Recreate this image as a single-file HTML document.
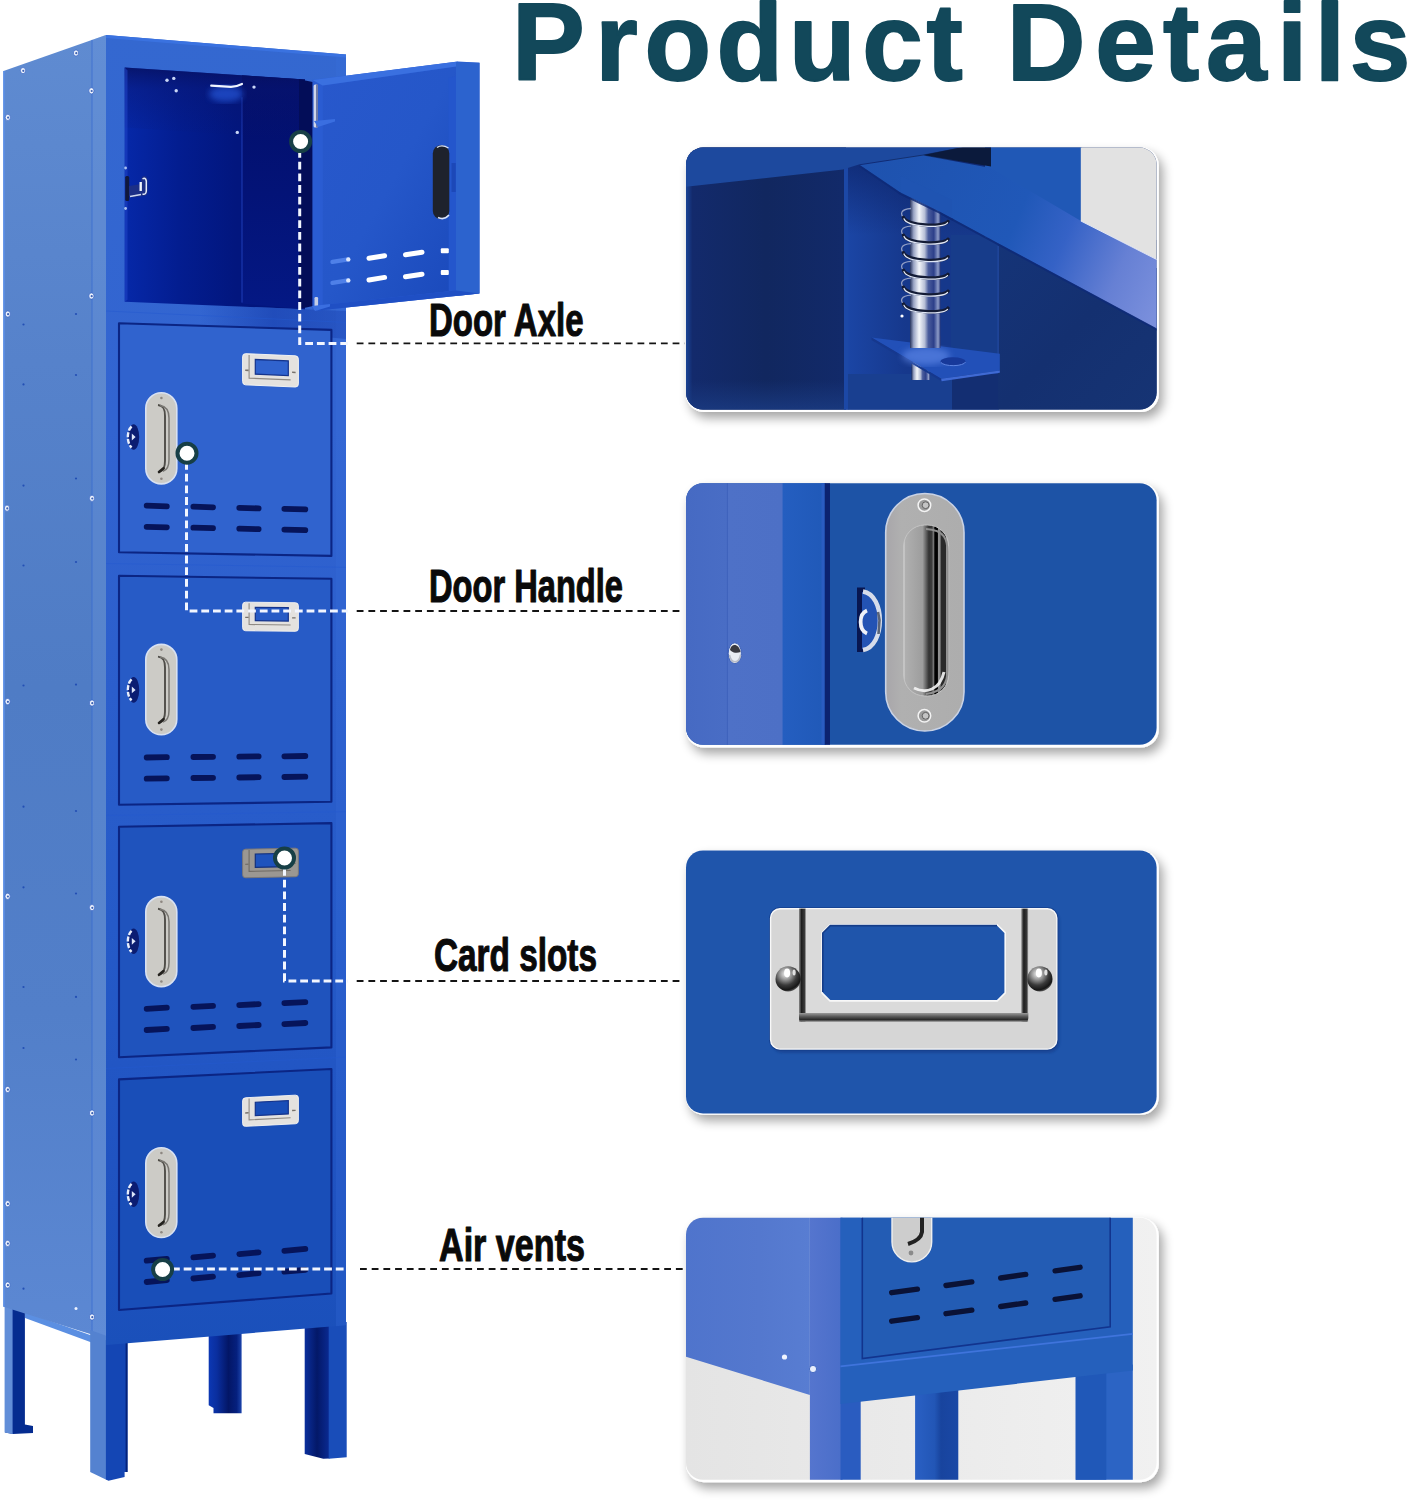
<!DOCTYPE html>
<html lang="en"><head><meta charset="utf-8"><title>Product Details</title>
<style>html,body{margin:0;padding:0;background:#fff}body{width:1412px;height:1500px;overflow:hidden}svg{display:block}</style>
</head><body>
<svg width="1412" height="1500" viewBox="0 0 1412 1500">
<defs>
<linearGradient id="gSide" x1="0" y1="0" x2="0" y2="1">
 <stop offset="0" stop-color="#5f8bd1"/><stop offset="0.25" stop-color="#5682cb"/><stop offset="0.5" stop-color="#4f7cc5"/><stop offset="0.75" stop-color="#527fc9"/><stop offset="1" stop-color="#5c88d3"/>
</linearGradient>
<linearGradient id="gFront" x1="0" y1="0" x2="0" y2="1">
 <stop offset="0" stop-color="#3468d0"/><stop offset="0.3" stop-color="#3264d1"/><stop offset="0.5" stop-color="#2b5ecc"/><stop offset="0.68" stop-color="#255ac8"/><stop offset="0.89" stop-color="#1f52c0"/><stop offset="1" stop-color="#1a50ba"/>
</linearGradient>
<linearGradient id="gDoor" x1="0" y1="0" x2="1" y2="1">
 <stop offset="0" stop-color="#2d60d5"/><stop offset="0.45" stop-color="#2457cf"/><stop offset="1" stop-color="#1e50c7"/>
</linearGradient>
<linearGradient id="gInner" x1="0" y1="0" x2="1" y2="0">
 <stop offset="0" stop-color="#0628a8"/><stop offset="0.3" stop-color="#031d90"/><stop offset="0.62" stop-color="#02167e"/><stop offset="1" stop-color="#02147a"/>
</linearGradient>
<linearGradient id="gInnerR" x1="0" y1="0" x2="0" y2="1">
 <stop offset="0" stop-color="#020e6a"/><stop offset="1" stop-color="#041884"/>
</linearGradient>
<linearGradient id="gInTop" x1="0" y1="0" x2="0" y2="1"><stop offset="0" stop-color="#070f5a" stop-opacity="0.75"/><stop offset="0.3" stop-color="#0a1670" stop-opacity="0.4"/><stop offset="1" stop-color="#0a1670" stop-opacity="0"/></linearGradient>
<linearGradient id="gLegM" x1="0" y1="0" x2="1" y2="0"><stop offset="0" stop-color="#0c38b4"/><stop offset="0.25" stop-color="#0a2e9e"/><stop offset="0.6" stop-color="#031666"/><stop offset="0.85" stop-color="#05207e"/><stop offset="1" stop-color="#1c44ac"/></linearGradient>
<linearGradient id="gLegR" x1="0" y1="0" x2="1" y2="0"><stop offset="0" stop-color="#0b2f9c"/><stop offset="0.5" stop-color="#031868"/><stop offset="1" stop-color="#0a2a92"/></linearGradient>
<linearGradient id="gRailSh" x1="0" y1="0" x2="1" y2="0"><stop offset="0" stop-color="#1238a8" stop-opacity="0"/><stop offset="0.5" stop-color="#1238a8" stop-opacity="0.55"/><stop offset="1" stop-color="#1238a8" stop-opacity="0.35"/></linearGradient>
<linearGradient id="gOpen" x1="0" y1="0" x2="1" y2="1">
 <stop offset="0" stop-color="#2858cc"/><stop offset="0.5" stop-color="#2557c9"/><stop offset="1" stop-color="#1a49bb"/>
</linearGradient>
<linearGradient id="gPlate" x1="0" y1="0" x2="1" y2="0">
 <stop offset="0" stop-color="#e2e0dd"/><stop offset="0.5" stop-color="#d0ccc7"/><stop offset="1" stop-color="#dad7d3"/>
</linearGradient>
<linearGradient id="gC0L" x1="0" y1="0" x2="1" y2="0">
 <stop offset="0" stop-color="#1a4496"/><stop offset="0.04" stop-color="#132a6c"/><stop offset="0.5" stop-color="#11275f"/><stop offset="1" stop-color="#122a6a"/>
</linearGradient>
<linearGradient id="gC0R" x1="0" y1="0" x2="1" y2="0"><stop offset="0" stop-color="#1b46a6"/><stop offset="0.4" stop-color="#16388c"/><stop offset="1" stop-color="#16388a"/></linearGradient>
<linearGradient id="gC0LB" x1="0" y1="0" x2="0" y2="1"><stop offset="0" stop-color="#1a3a80" stop-opacity="0"/><stop offset="1" stop-color="#1a3a80" stop-opacity="0.9"/></linearGradient>
<linearGradient id="gC0RR" x1="0" y1="0" x2="1" y2="1"><stop offset="0" stop-color="#153478"/><stop offset="0.5" stop-color="#143070"/><stop offset="1" stop-color="#163474"/></linearGradient>
<linearGradient id="gC0Sh" x1="0" y1="0" x2="0" y2="1"><stop offset="0" stop-color="#0c2266" stop-opacity="0.7"/><stop offset="1" stop-color="#0c2266" stop-opacity="0"/></linearGradient>
<linearGradient id="gC0B" x1="0" y1="0" x2="0" y2="1"><stop offset="0" stop-color="#143a90"/><stop offset="1" stop-color="#1746a6"/></linearGradient>
<linearGradient id="gBeam" gradientUnits="userSpaceOnUse" x1="860" y1="170" x2="1160" y2="300">
 <stop offset="0" stop-color="#1e52ae"/><stop offset="0.5" stop-color="#2058b8"/><stop offset="0.66" stop-color="#3562c6"/><stop offset="0.85" stop-color="#6680d4"/><stop offset="1" stop-color="#7a8fdc"/>
</linearGradient>
<linearGradient id="gPin" x1="0" y1="0" x2="1" y2="0">
 <stop offset="0" stop-color="#26335e"/><stop offset="0.12" stop-color="#9aa4c4"/><stop offset="0.3" stop-color="#f4f6fa"/><stop offset="0.48" stop-color="#b7bfd6"/><stop offset="0.6" stop-color="#4a5c9c"/><stop offset="0.78" stop-color="#2c3f8a"/><stop offset="0.92" stop-color="#8e9cc8"/><stop offset="1" stop-color="#2a3a7c"/>
</linearGradient>
<linearGradient id="gC1L" x1="0" y1="0" x2="1" y2="0">
 <stop offset="0" stop-color="#466ac3"/><stop offset="0.288" stop-color="#496dc5"/><stop offset="0.292" stop-color="#4e71c7"/><stop offset="0.684" stop-color="#4d70c6"/><stop offset="0.696" stop-color="#245ec0"/><stop offset="1" stop-color="#2059b8"/>
</linearGradient>
<linearGradient id="gPl1" x1="0" y1="0" x2="1" y2="0"><stop offset="0" stop-color="#a8a6aa"/><stop offset="0.2" stop-color="#b0b0b0"/><stop offset="1" stop-color="#adadad"/></linearGradient>
<linearGradient id="gCup" x1="0" y1="0" x2="1" y2="0">
 <stop offset="0" stop-color="#f4f4f4"/><stop offset="0.025" stop-color="#b0b0b0"/><stop offset="0.42" stop-color="#9d9d9d"/><stop offset="0.56" stop-color="#333333"/><stop offset="0.62" stop-color="#3a3a3a"/><stop offset="0.67" stop-color="#7c7c7c"/><stop offset="0.69" stop-color="#000000"/><stop offset="0.75" stop-color="#000000"/><stop offset="0.765" stop-color="#909090"/><stop offset="0.81" stop-color="#8a8a8a"/><stop offset="0.83" stop-color="#2a2a2a"/><stop offset="0.93" stop-color="#2a2a2a"/><stop offset="0.955" stop-color="#adadad"/><stop offset="1" stop-color="#adadad"/>
</linearGradient>
<linearGradient id="gBarV" x1="0" y1="0" x2="1" y2="0">
 <stop offset="0" stop-color="#8d8d8d"/><stop offset="0.35" stop-color="#1e1e1e"/><stop offset="0.8" stop-color="#3a3a3a"/><stop offset="1" stop-color="#bdbdbd"/>
</linearGradient>
<linearGradient id="gBarH" x1="0" y1="0" x2="0" y2="1">
 <stop offset="0" stop-color="#9a9a9a"/><stop offset="0.4" stop-color="#5a5a5a"/><stop offset="0.75" stop-color="#2b2b2b"/><stop offset="1" stop-color="#8a8a8a"/>
</linearGradient>
<radialGradient id="gBall" cx="0.4" cy="0.3" r="0.75">
 <stop offset="0" stop-color="#f2f2f2"/><stop offset="0.3" stop-color="#9a9a9a"/><stop offset="0.6" stop-color="#3a3a3a"/><stop offset="0.85" stop-color="#161616"/><stop offset="1" stop-color="#7a7a7a"/>
</radialGradient>
<linearGradient id="gC3P" x1="0" y1="0" x2="1" y2="0"><stop offset="0" stop-color="#5575ce"/><stop offset="1" stop-color="#4a6ec9"/></linearGradient>
<linearGradient id="gC3G" x1="0" y1="0" x2="1" y2="0"><stop offset="0" stop-color="#e4e4e4"/><stop offset="1" stop-color="#f1f1f1"/></linearGradient>
<linearGradient id="gC3M" x1="0" y1="0" x2="1" y2="0"><stop offset="0" stop-color="#2a60c4"/><stop offset="0.45" stop-color="#2256b6"/><stop offset="0.6" stop-color="#18449e"/><stop offset="1" stop-color="#1a48a6"/></linearGradient>
<linearGradient id="gC3S" x1="0" y1="0" x2="1" y2="0">
 <stop offset="0" stop-color="#4f74cc"/><stop offset="0.6" stop-color="#5478ce"/><stop offset="1" stop-color="#587dd2"/>
</linearGradient>
<filter id="sh" x="-10%" y="-10%" width="125%" height="130%">
 <feGaussianBlur in="SourceAlpha" stdDeviation="5.5"/><feOffset dx="4" dy="6"/>
 <feComponentTransfer><feFuncA type="linear" slope="0.36"/></feComponentTransfer>
 <feMerge><feMergeNode/><feMergeNode in="SourceGraphic"/></feMerge>
</filter>
<filter id="b1"><feGaussianBlur stdDeviation="1"/></filter>
<filter id="b3"><feGaussianBlur stdDeviation="3"/></filter>
<filter id="b8"><feGaussianBlur stdDeviation="8"/></filter>
</defs>
<g id="locker">
<polygon points="5.1,1300.0 24.9,1308.0 24.9,1424.5 33.0,1426.0 33.0,1433.0 13.0,1434.0 5.1,1432.5" fill="#052c90"/>
<polygon points="4.6,1300.0 12.6,1303.0 12.6,1434.0 4.6,1432.5" fill="#628ed8"/>
<polygon points="208.7,1330.0 241.6,1328.0 241.6,1413.3 213.5,1413.3 213.5,1408.0 208.7,1405.3" fill="url(#gLegM)"/>
<polygon points="25.0,1312.0 93.0,1336.0 93.0,1343.0 25.0,1318.0" fill="#5b8fe2"/>
<polygon points="3.5,71.0 106.0,35.0 106.0,1339.0 3.5,1306.8" fill="url(#gSide)"/>
<polygon points="92.0,39.9 106.0,35.0 106.0,1339.0 92.0,1334.6" fill="#6a96e0" opacity="0.28"/>
<line x1="92" y1="39.9" x2="92" y2="1334.6" stroke="#3468cf" stroke-width="1" opacity="0.7"/>
<line x1="4" y1="71.0" x2="4" y2="1306.8" stroke="#5a8ee6" stroke-width="2" opacity="0.8"/>
<polygon points="90.2,1330.0 106.8,1336.0 106.8,1480.0 90.2,1472.0" fill="#5482d0"/>
<polygon points="105.9,1340.0 127.5,1340.0 127.5,1472.0 124.6,1472.0 124.6,1477.0 108.5,1480.8 105.9,1479.6" fill="#1446b4"/>
<rect x="125.6" y="1342" width="1.9" height="130" fill="#04227a"/>
<polygon points="304.7,1325.0 329.4,1325.0 329.4,1458.6 323.3,1458.7 304.7,1454.0" fill="url(#gLegR)"/>
<polygon points="328.7,1322.0 346.7,1322.0 346.7,1457.3 328.7,1458.7" fill="#194db9"/>
<polygon points="106.0,35.0 346.0,54.6 346.0,1325.3 106.0,1345.0" fill="url(#gFront)"/>
<polygon points="106.0,35.0 346.0,54.6 346.0,57.6 106.0,38.0" fill="#3a72e0"/>
<polygon points="336.0,53.8 346.0,54.6 346.0,1325.3 336.0,1326.2" fill="#3a70e0" opacity="0.22"/>
<polygon points="124.7,67.4 305.0,79.6 305.0,309.2 124.7,301.7" fill="url(#gInner)"/>
<polygon points="242.0,75.3 305.0,79.6 305.0,309.2 242.0,303.6" fill="url(#gInnerR)"/>
<line x1="242" y1="97.3" x2="242" y2="302.6" stroke="#2b4fd0" stroke-width="1" opacity="0.7"/>
<polygon points="124.7,67.4 305.0,79.6 305.0,139.6 124.7,127.4" fill="url(#gInTop)"/>
<polygon points="124.7,67.4 127.5,70.6 127.5,299.8 124.7,301.7" fill="#2145c8" opacity="0.55"/>
<ellipse cx="226" cy="94" rx="17" ry="8" fill="#2a62e8" opacity="0.6" filter="url(#b3)"/>
<path d="M211.2 85.7 L231 86.8 Q237 86.6 242 84" fill="none" stroke="#f0f5ff" stroke-width="2.2" stroke-linecap="round"/>
<circle cx="176.2" cy="90.8" r="1.7" fill="#c9d6f6"/>
<circle cx="254" cy="87.1" r="1.7" fill="#c9d6f6"/>
<circle cx="237.3" cy="132.4" r="1.7" fill="#c9d6f6"/>
<circle cx="167" cy="80.2" r="1.7" fill="#c9d6f6"/>
<circle cx="173.8" cy="78.4" r="1.7" fill="#c9d6f6"/>
<rect x="125.2" y="176" width="4" height="25" rx="1.5" fill="#10183c"/>
<path d="M129 186 L141 184 L141 181 Q141 176 144.5 176 Q147.6 176 147.6 181 L147.6 192 Q147.6 196 144 196 L133 197.5 L129 196 Z" fill="#1c2f86"/>
<path d="M142.5 179 Q145.5 177 146.3 181 L146.3 191 Q146 195 142.5 194" fill="none" stroke="#e4eaf8" stroke-width="1.5"/><path d="M130 196.5 L141 194.5" stroke="#cfd8ee" stroke-width="1.4"/><rect x="139.5" y="182" width="2.4" height="9" fill="#f0f4fc"/>
<circle cx="125.6" cy="168" r="1.4" fill="#a9c0f2"/><circle cx="125.6" cy="208.5" r="1.4" fill="#a9c0f2"/>
<polygon points="200.0,304.8 346.0,310.9 346.0,339.1 200.0,325.3" fill="url(#gRailSh)"/>
<polygon points="119.0,323.3 331.4,329.9 331.4,555.9 119.0,552.2" fill="#3063ce" stroke="#0b2584" stroke-width="2.1" stroke-linejoin="round"/>
<line x1="146.7" y1="505.7" x2="166.8" y2="506.3" stroke="#06145a" stroke-width="5.8" stroke-linecap="round"/>
<line x1="193.4" y1="506.7" x2="213.0" y2="507.3" stroke="#06145a" stroke-width="5.8" stroke-linecap="round"/>
<line x1="239.3" y1="507.8" x2="258.6" y2="508.4" stroke="#06145a" stroke-width="5.8" stroke-linecap="round"/>
<line x1="284.4" y1="508.8" x2="305.3" y2="509.4" stroke="#06145a" stroke-width="5.8" stroke-linecap="round"/>
<line x1="146.7" y1="526.8" x2="166.8" y2="527.3" stroke="#06145a" stroke-width="5.8" stroke-linecap="round"/>
<line x1="193.4" y1="527.7" x2="213.0" y2="528.2" stroke="#06145a" stroke-width="5.8" stroke-linecap="round"/>
<line x1="239.3" y1="528.7" x2="258.6" y2="529.2" stroke="#06145a" stroke-width="5.8" stroke-linecap="round"/>
<line x1="284.4" y1="529.6" x2="305.3" y2="530.1" stroke="#06145a" stroke-width="5.8" stroke-linecap="round"/>
<rect x="145.8" y="392.8" width="31" height="91.1" rx="15.5" fill="#cccbc6" stroke="#d8e1f2" stroke-width="1.6"/>
<path d="M158 405.0 C164 405.5 165 410.0 165 416.0 L165 460.7 C165 466.7 164 470.2 160 471.7" fill="none" stroke="#4f4d48" stroke-width="1.9"/>
<path d="M160 405.5 C167.5 406.5 169 412.0 169 418.0 L169 459.7 C169 465.7 168 469.7 163 471.2" fill="none" stroke="#7a7873" stroke-width="1.5"/>
<path d="M159 472.0 L163.5 468.3" stroke="#24221e" stroke-width="2.6" stroke-linecap="round"/>
<circle cx="161.4" cy="398.0" r="1.3" fill="#8d8781"/><circle cx="161.4" cy="478.7" r="1.3" fill="#8d8781"/>
<ellipse cx="133.6" cy="437.0" rx="5.6" ry="12.8" fill="#0b1d72"/>
<path d="M131.6 426.5 C 126.6 431.0 126.6 443.0 131.6 447.5" fill="none" stroke="#e8eefb" stroke-width="2.4" stroke-dasharray="5 1.6"/>
<path d="M131.8 433.6 L135.6 437.0 L131.8 440.4 Z" fill="#dfe7fa"/>
<g transform="translate(242.6,353.54) skewY(2.450) scale(1,1.091)">
<rect x="0" y="0" width="55.8" height="28.6" rx="3" fill="#e4e2df" stroke="#f6f5f3" stroke-width="0.9"/>
<path d="M6.5 1 L6.5 22.3 L48 22.3" fill="none" stroke="#8f8a84" stroke-width="1.1"/>
<rect x="12.7" y="5" width="33" height="13.4" fill="#3063ce" stroke="#15348c" stroke-width="1.2"/>
<path d="M2.6 15.2 L6 15.2 M49.5 15.2 L53 15.2" stroke="#77726c" stroke-width="1.4"/>
</g>
<polygon points="119.0,575.8 331.4,578.8 331.4,801.8 119.0,804.8" fill="#275bc6" stroke="#0b2584" stroke-width="2.1" stroke-linejoin="round"/>
<line x1="146.7" y1="757.5" x2="166.8" y2="757.2" stroke="#06145a" stroke-width="5.8" stroke-linecap="round"/>
<line x1="193.4" y1="757.0" x2="213.0" y2="756.8" stroke="#06145a" stroke-width="5.8" stroke-linecap="round"/>
<line x1="239.3" y1="756.7" x2="258.6" y2="756.4" stroke="#06145a" stroke-width="5.8" stroke-linecap="round"/>
<line x1="284.4" y1="756.3" x2="305.3" y2="756.0" stroke="#06145a" stroke-width="5.8" stroke-linecap="round"/>
<line x1="146.7" y1="778.6" x2="166.8" y2="778.3" stroke="#06145a" stroke-width="5.8" stroke-linecap="round"/>
<line x1="193.4" y1="778.0" x2="213.0" y2="777.8" stroke="#06145a" stroke-width="5.8" stroke-linecap="round"/>
<line x1="239.3" y1="777.5" x2="258.6" y2="777.2" stroke="#06145a" stroke-width="5.8" stroke-linecap="round"/>
<line x1="284.4" y1="777.0" x2="305.3" y2="776.7" stroke="#06145a" stroke-width="5.8" stroke-linecap="round"/>
<rect x="145.8" y="644.4" width="31" height="90.4" rx="15.5" fill="#cccbc6" stroke="#d8e1f2" stroke-width="1.6"/>
<path d="M158 656.6 C164 657.1 165 661.6 165 667.6 L165 711.6 C165 717.6 164 721.1 160 722.6" fill="none" stroke="#4f4d48" stroke-width="1.9"/>
<path d="M160 657.1 C167.5 658.1 169 663.6 169 669.6 L169 710.6 C169 716.6 168 720.6 163 722.1" fill="none" stroke="#7a7873" stroke-width="1.5"/>
<path d="M159 722.9 L163.5 719.2" stroke="#24221e" stroke-width="2.6" stroke-linecap="round"/>
<circle cx="161.4" cy="649.6" r="1.3" fill="#8d8781"/><circle cx="161.4" cy="729.6" r="1.3" fill="#8d8781"/>
<ellipse cx="133.6" cy="689.9" rx="5.6" ry="12.8" fill="#0b1d72"/>
<path d="M131.6 679.4 C 126.6 683.9 126.6 695.9 131.6 700.4" fill="none" stroke="#e8eefb" stroke-width="2.4" stroke-dasharray="5 1.6"/>
<path d="M131.8 686.5 L135.6 689.9 L131.8 693.3 Z" fill="#dfe7fa"/>
<g transform="translate(242.6,602.13) skewY(0.640) scale(1,1.000)">
<rect x="0" y="0" width="55.8" height="28.6" rx="3" fill="#e4e2df" stroke="#f6f5f3" stroke-width="0.9"/>
<path d="M6.5 1 L6.5 22.3 L48 22.3" fill="none" stroke="#8f8a84" stroke-width="1.1"/>
<rect x="12.7" y="5" width="33" height="13.4" fill="#275bc6" stroke="#15348c" stroke-width="1.2"/>
<path d="M2.6 15.2 L6 15.2 M49.5 15.2 L53 15.2" stroke="#77726c" stroke-width="1.4"/>
</g>
<polygon points="119.0,826.8 331.4,823.1 331.4,1047.4 119.0,1057.2" fill="#1f53bd" stroke="#0b2584" stroke-width="2.1" stroke-linejoin="round"/>
<line x1="146.7" y1="1008.8" x2="166.8" y2="1007.7" stroke="#06145a" stroke-width="5.8" stroke-linecap="round"/>
<line x1="193.4" y1="1006.9" x2="213.0" y2="1005.9" stroke="#06145a" stroke-width="5.8" stroke-linecap="round"/>
<line x1="239.3" y1="1005.1" x2="258.6" y2="1004.1" stroke="#06145a" stroke-width="5.8" stroke-linecap="round"/>
<line x1="284.4" y1="1003.2" x2="305.3" y2="1002.2" stroke="#06145a" stroke-width="5.8" stroke-linecap="round"/>
<line x1="146.7" y1="1030.0" x2="166.8" y2="1028.9" stroke="#06145a" stroke-width="5.8" stroke-linecap="round"/>
<line x1="193.4" y1="1028.0" x2="213.0" y2="1026.9" stroke="#06145a" stroke-width="5.8" stroke-linecap="round"/>
<line x1="239.3" y1="1026.0" x2="258.6" y2="1025.0" stroke="#06145a" stroke-width="5.8" stroke-linecap="round"/>
<line x1="284.4" y1="1024.1" x2="305.3" y2="1023.0" stroke="#06145a" stroke-width="5.8" stroke-linecap="round"/>
<rect x="145.8" y="896.6" width="31" height="90.1" rx="15.5" fill="#cccbc6" stroke="#d8e1f2" stroke-width="1.6"/>
<path d="M158 908.8 C164 909.3 165 913.8 165 919.8 L165 963.5 C165 969.5 164 973.0 160 974.5" fill="none" stroke="#4f4d48" stroke-width="1.9"/>
<path d="M160 909.3 C167.5 910.3 169 915.8 169 921.8 L169 962.5 C169 968.5 168 972.5 163 974.0" fill="none" stroke="#7a7873" stroke-width="1.5"/>
<path d="M159 974.8 L163.5 971.1" stroke="#24221e" stroke-width="2.6" stroke-linecap="round"/>
<circle cx="161.4" cy="901.8" r="1.3" fill="#8d8781"/><circle cx="161.4" cy="981.5" r="1.3" fill="#8d8781"/>
<ellipse cx="133.6" cy="941.3" rx="5.6" ry="12.8" fill="#0b1d72"/>
<path d="M131.6 930.8 C 126.6 935.3 126.6 947.3 131.6 951.8" fill="none" stroke="#e8eefb" stroke-width="2.4" stroke-dasharray="5 1.6"/>
<path d="M131.8 937.9 L135.6 941.3 L131.8 944.7 Z" fill="#dfe7fa"/>
<g transform="translate(242.6,849.23) skewY(-1.160) scale(1,1.000)">
<rect x="0" y="0" width="55.8" height="28.6" rx="3" fill="#9b9792" stroke="#7d7873" stroke-width="0.9"/>
<path d="M6.5 1 L6.5 22.3 L48 22.3" fill="none" stroke="#6f6a64" stroke-width="1.1"/>
<rect x="12.7" y="5" width="33" height="13.4" fill="#1f53bd" stroke="#14307c" stroke-width="1.2"/>
<path d="M2.6 15.2 L6 15.2 M49.5 15.2 L53 15.2" stroke="#77726c" stroke-width="1.4"/>
</g>
<polygon points="119.0,1079.4 331.4,1069.0 331.4,1293.5 119.0,1310.0" fill="#194eb8" stroke="#0b2584" stroke-width="2.1" stroke-linejoin="round"/>
<line x1="146.7" y1="1260.7" x2="166.8" y2="1258.9" stroke="#06145a" stroke-width="5.8" stroke-linecap="round"/>
<line x1="193.4" y1="1257.4" x2="213.0" y2="1255.6" stroke="#06145a" stroke-width="5.8" stroke-linecap="round"/>
<line x1="239.3" y1="1254.1" x2="258.6" y2="1252.3" stroke="#06145a" stroke-width="5.8" stroke-linecap="round"/>
<line x1="284.4" y1="1250.8" x2="305.3" y2="1248.9" stroke="#06145a" stroke-width="5.8" stroke-linecap="round"/>
<line x1="146.7" y1="1282.0" x2="166.8" y2="1280.1" stroke="#06145a" stroke-width="5.8" stroke-linecap="round"/>
<line x1="193.4" y1="1278.5" x2="213.0" y2="1276.6" stroke="#06145a" stroke-width="5.8" stroke-linecap="round"/>
<line x1="239.3" y1="1275.1" x2="258.6" y2="1273.2" stroke="#06145a" stroke-width="5.8" stroke-linecap="round"/>
<line x1="284.4" y1="1271.7" x2="305.3" y2="1269.8" stroke="#06145a" stroke-width="5.8" stroke-linecap="round"/>
<rect x="145.8" y="1147.8" width="31" height="89.7" rx="15.5" fill="#cccbc6" stroke="#d8e1f2" stroke-width="1.6"/>
<path d="M158 1160.0 C164 1160.5 165 1165.0 165 1171.0 L165 1214.3 C165 1220.3 164 1223.8 160 1225.3" fill="none" stroke="#4f4d48" stroke-width="1.9"/>
<path d="M160 1160.5 C167.5 1161.5 169 1167.0 169 1173.0 L169 1213.3 C169 1219.3 168 1223.3 163 1224.8" fill="none" stroke="#7a7873" stroke-width="1.5"/>
<path d="M159 1225.6 L163.5 1221.9" stroke="#24221e" stroke-width="2.6" stroke-linecap="round"/>
<circle cx="161.4" cy="1153.0" r="1.3" fill="#8d8781"/><circle cx="161.4" cy="1232.3" r="1.3" fill="#8d8781"/>
<ellipse cx="133.6" cy="1194.3" rx="5.6" ry="12.8" fill="#0b1d72"/>
<path d="M131.6 1183.8 C 126.6 1188.3 126.6 1200.3 131.6 1204.8" fill="none" stroke="#e8eefb" stroke-width="2.4" stroke-dasharray="5 1.6"/>
<path d="M131.8 1190.9 L135.6 1194.3 L131.8 1197.7 Z" fill="#dfe7fa"/>
<g transform="translate(242.6,1097.91) skewY(-2.970) scale(1,1.000)">
<rect x="0" y="0" width="55.8" height="28.6" rx="3" fill="#e4e2df" stroke="#f6f5f3" stroke-width="0.9"/>
<path d="M6.5 1 L6.5 22.3 L48 22.3" fill="none" stroke="#8f8a84" stroke-width="1.1"/>
<rect x="12.7" y="5" width="33" height="13.4" fill="#194eb8" stroke="#15348c" stroke-width="1.2"/>
<path d="M2.6 15.2 L6 15.2 M49.5 15.2 L53 15.2" stroke="#77726c" stroke-width="1.4"/>
</g>
<line x1="106.0" y1="311.0" x2="346.0" y2="322.4" stroke="#2459cf" stroke-width="1" opacity="0.5"/>
<line x1="106.0" y1="563.5" x2="346.0" y2="567.3" stroke="#2459cf" stroke-width="1" opacity="0.5"/>
<line x1="106.0" y1="815.5" x2="346.0" y2="811.7" stroke="#2459cf" stroke-width="1" opacity="0.5"/>
<line x1="106.0" y1="1068.5" x2="346.0" y2="1057.1" stroke="#2459cf" stroke-width="1" opacity="0.5"/>
<ellipse cx="23.0" cy="70.6" rx="2.6" ry="3.1" fill="#eef3fd" stroke="#3763c2" stroke-width="0.7"/><circle cx="23.3" cy="70.8" r="1.1" fill="#3d62b4"/>
<ellipse cx="76.0" cy="53.0" rx="2.6" ry="3.1" fill="#eef3fd" stroke="#3763c2" stroke-width="0.7"/><circle cx="76.3" cy="53.2" r="1.1" fill="#3d62b4"/>
<ellipse cx="91.4" cy="90.8" rx="2.6" ry="3.1" fill="#eef3fd" stroke="#3763c2" stroke-width="0.7"/><circle cx="91.7" cy="91.0" r="1.1" fill="#3d62b4"/>
<ellipse cx="7.8" cy="117.4" rx="2.6" ry="3.1" fill="#eef3fd" stroke="#3763c2" stroke-width="0.7"/><circle cx="8.1" cy="117.6" r="1.1" fill="#3d62b4"/>
<ellipse cx="91.4" cy="296.0" rx="2.6" ry="3.1" fill="#eef3fd" stroke="#3763c2" stroke-width="0.7"/><circle cx="91.7" cy="296.2" r="1.1" fill="#3d62b4"/>
<ellipse cx="7.8" cy="314.0" rx="2.6" ry="3.1" fill="#eef3fd" stroke="#3763c2" stroke-width="0.7"/><circle cx="8.1" cy="314.2" r="1.1" fill="#3d62b4"/>
<ellipse cx="92.0" cy="498.3" rx="2.6" ry="3.1" fill="#eef3fd" stroke="#3763c2" stroke-width="0.7"/><circle cx="92.3" cy="498.5" r="1.1" fill="#3d62b4"/>
<ellipse cx="7.0" cy="508.2" rx="2.6" ry="3.1" fill="#eef3fd" stroke="#3763c2" stroke-width="0.7"/><circle cx="7.3" cy="508.4" r="1.1" fill="#3d62b4"/>
<ellipse cx="7.6" cy="701.6" rx="2.6" ry="3.1" fill="#eef3fd" stroke="#3763c2" stroke-width="0.7"/><circle cx="7.9" cy="701.8" r="1.1" fill="#3d62b4"/>
<ellipse cx="92.0" cy="703.0" rx="2.6" ry="3.1" fill="#eef3fd" stroke="#3763c2" stroke-width="0.7"/><circle cx="92.3" cy="703.2" r="1.1" fill="#3d62b4"/>
<ellipse cx="7.6" cy="896.3" rx="2.6" ry="3.1" fill="#eef3fd" stroke="#3763c2" stroke-width="0.7"/><circle cx="7.9" cy="896.5" r="1.1" fill="#3d62b4"/>
<ellipse cx="92.0" cy="907.6" rx="2.6" ry="3.1" fill="#eef3fd" stroke="#3763c2" stroke-width="0.7"/><circle cx="92.3" cy="907.8" r="1.1" fill="#3d62b4"/>
<ellipse cx="7.6" cy="1089.5" rx="2.6" ry="3.1" fill="#eef3fd" stroke="#3763c2" stroke-width="0.7"/><circle cx="7.9" cy="1089.7" r="1.1" fill="#3d62b4"/>
<ellipse cx="92.0" cy="1113.0" rx="2.6" ry="3.1" fill="#eef3fd" stroke="#3763c2" stroke-width="0.7"/><circle cx="92.3" cy="1113.2" r="1.1" fill="#3d62b4"/>
<ellipse cx="7.6" cy="1203.7" rx="2.6" ry="3.1" fill="#eef3fd" stroke="#3763c2" stroke-width="0.7"/><circle cx="7.9" cy="1203.9" r="1.1" fill="#3d62b4"/>
<ellipse cx="7.6" cy="1243.4" rx="2.6" ry="3.1" fill="#eef3fd" stroke="#3763c2" stroke-width="0.7"/><circle cx="7.9" cy="1243.6" r="1.1" fill="#3d62b4"/>
<ellipse cx="7.6" cy="1285.0" rx="2.6" ry="3.1" fill="#eef3fd" stroke="#3763c2" stroke-width="0.7"/><circle cx="7.9" cy="1285.2" r="1.1" fill="#3d62b4"/>
<ellipse cx="92.0" cy="1317.0" rx="2.6" ry="3.1" fill="#eef3fd" stroke="#3763c2" stroke-width="0.7"/><circle cx="92.3" cy="1317.2" r="1.1" fill="#3d62b4"/>
<circle cx="76" cy="1308.6" r="1.5" fill="#eef3ff"/>
<circle cx="23.5" cy="324.5" r="1.1" fill="#234fb4"/>
<circle cx="23.5" cy="384.4" r="1.1" fill="#234fb4"/>
<circle cx="23.5" cy="485.6" r="1.1" fill="#234fb4"/>
<circle cx="23.5" cy="565.5" r="1.1" fill="#234fb4"/>
<circle cx="23.5" cy="685.5" r="1.1" fill="#234fb4"/>
<circle cx="23.5" cy="806.7" r="1.1" fill="#234fb4"/>
<circle cx="23.5" cy="887.3" r="1.1" fill="#234fb4"/>
<circle cx="23.5" cy="987.0" r="1.1" fill="#234fb4"/>
<circle cx="23.5" cy="1048.0" r="1.1" fill="#234fb4"/>
<circle cx="23.5" cy="1288.7" r="1.1" fill="#234fb4"/>
<circle cx="76.0" cy="314.0" r="1.1" fill="#234fb4"/>
<circle cx="76.0" cy="375.0" r="1.1" fill="#234fb4"/>
<circle cx="76.0" cy="478.5" r="1.1" fill="#234fb4"/>
<circle cx="76.0" cy="562.0" r="1.1" fill="#234fb4"/>
<circle cx="76.0" cy="684.6" r="1.1" fill="#234fb4"/>
<circle cx="76.0" cy="811.0" r="1.1" fill="#234fb4"/>
<circle cx="76.0" cy="893.5" r="1.1" fill="#234fb4"/>
<circle cx="76.0" cy="996.9" r="1.1" fill="#234fb4"/>
<circle cx="76.0" cy="1059.5" r="1.1" fill="#234fb4"/>
<polygon points="299.0,79.2 322.7,84.0 322.7,304.0 299.0,308.9" fill="#030d58"/>
<polygon points="312.4,79.9 458.0,61.6 479.5,62.7 479.5,293.6 318.0,310.5 312.4,309.0" fill="#2a5cd2"/>
<polygon points="322.7,85.5 456.0,66.5 456.0,290.5 322.7,305.0" fill="url(#gOpen)"/>
<polygon points="312.4,79.9 458.0,61.6 456.0,66.5 322.7,85.5" fill="#3a70e0"/>
<polygon points="456.0,62.0 479.5,62.7 479.5,293.6 456.0,296.0" fill="#2c63ce"/>
<polygon points="448.7,78.0 456.0,76.0 456.0,292.0 448.7,292.5" fill="#2456cc"/>
<polygon points="322.7,305.0 456.0,290.5 479.5,293.6 318.0,310.5" fill="#1f4fc4"/>
<rect x="432.8" y="145.2" width="16.5" height="74" rx="8.2" fill="#1e222c"/>
<path d="M437 147.5 Q442 144 448.5 148" stroke="#d8e2f8" stroke-width="1.4" fill="none"/><path d="M438 217.5 Q444 220.5 449 215" stroke="#d8e2f8" stroke-width="1.6" fill="none"/>
<rect x="451.5" y="163" width="4.2" height="29" fill="#1c48b8"/>
<line x1="332.5" y1="261.8" x2="348" y2="259.4" stroke="#4f80e8" stroke-width="4.4" stroke-linecap="round"/>
<circle cx="348.3" cy="259.4" r="2.2" fill="#dfe8fb"/>
<line x1="369" y1="258.3" x2="384.6" y2="255.7" stroke="#ffffff" stroke-width="5" stroke-linecap="round"/>
<line x1="405.5" y1="254.8" x2="422" y2="252.2" stroke="#ffffff" stroke-width="5" stroke-linecap="round"/>
<rect x="440.8" y="248.2" width="8" height="5" rx="1" fill="#ffffff"/>
<line x1="332.5" y1="282.8" x2="348" y2="280.4" stroke="#4f80e8" stroke-width="4.4" stroke-linecap="round"/>
<circle cx="348.3" cy="280.4" r="2.2" fill="#dfe8fb"/>
<line x1="369" y1="280.0" x2="384.6" y2="277.4" stroke="#ffffff" stroke-width="5" stroke-linecap="round"/>
<line x1="405.5" y1="276.8" x2="422" y2="274.2" stroke="#ffffff" stroke-width="5" stroke-linecap="round"/>
<rect x="440.8" y="270.0" width="8" height="5" rx="1" fill="#ffffff"/>
<rect x="313.6" y="84.5" width="4.2" height="43" rx="1.5" fill="#cfd6ea"/><rect x="316" y="84.5" width="2" height="43" fill="#6f7ba8"/>
<path d="M314 121 L335 119 L335 121.5 L318 127 Z" fill="#3a6ee0"/>
<rect x="314.5" y="297" width="3.6" height="13" rx="1.2" fill="#c4cde6"/>
<path d="M312 306 L330 304 L330 306.5 L315 311 Z" fill="#3a6ee0"/>
</g>
<clipPath id="c0"><rect x="686" y="147.6" width="470.6" height="262" rx="17"/></clipPath>
<clipPath id="c1"><rect x="686" y="483.2" width="470.6" height="261.6" rx="17"/></clipPath>
<clipPath id="c2"><rect x="686" y="850.4" width="470.6" height="263" rx="17"/></clipPath>
<clipPath id="c3"><rect x="686" y="1217.8" width="470.6" height="262" rx="17"/></clipPath>
<rect x="686" y="147.6" width="472.8" height="264.4" rx="18" fill="#ffffff" filter="url(#sh)"/>
<rect x="686" y="483.2" width="472.8" height="264.4" rx="18" fill="#ffffff" filter="url(#sh)"/>
<rect x="686" y="850.4" width="472.8" height="264.4" rx="18" fill="#ffffff" filter="url(#sh)"/>
<rect x="686" y="1217.8" width="472.8" height="264.4" rx="18" fill="#ffffff" filter="url(#sh)"/>
<g clip-path="url(#c0)">
<rect x="686" y="147" width="471" height="264" fill="#143070"/>
<rect x="686" y="147" width="160" height="264" fill="url(#gC0L)"/>
<rect x="686" y="380" width="160" height="31" fill="url(#gC0LB)"/>
<rect x="844" y="160" width="155" height="251" fill="url(#gC0R)"/>
<rect x="844" y="160" width="4.5" height="251" fill="#1c48a6"/>
<rect x="951" y="235" width="47" height="137" fill="#173c8a"/>
<rect x="998" y="240" width="160" height="171" fill="url(#gC0RR)"/>
<line x1="998.2" y1="246" x2="998.2" y2="370" stroke="#2c58bc" stroke-width="1" opacity="0.7"/>
<rect x="848" y="374" width="104" height="37" fill="#193f90"/>
<rect x="952" y="374" width="46" height="37" fill="#132e72"/>
<rect x="848" y="160" width="150" height="75" fill="url(#gC0Sh)"/>
<rect x="985" y="147" width="97" height="91" fill="#2058b6"/>
<rect x="1080.8" y="147" width="80" height="121" fill="#e2e2e2"/>
<polygon points="686.0,147.0 962.8,147.0 923.5,154.6 859.7,164.2 843.0,169.5 686.0,186.8" fill="#1d499e"/>
<polygon points="923.5,155.0 962.8,147.0 991.0,147.0 991.0,166.5" fill="#0b1a3c"/>
<polygon points="859.7,165.3 923.5,155.4 991.0,168.0 1081.0,221.0 1160.0,261.0 1160.0,330.5 998.2,243.5 940.0,212.0 900.7,193.0" fill="url(#gBeam)"/>
<polyline points="859.7,166.0 900.7,193.8 940.0,212.8 998.2,244.3 1160.0,331.3" fill="none" stroke="#0e2a78" stroke-width="2" opacity="0.85"/>
<line x1="1080.8" y1="221" x2="1160" y2="261.2" stroke="#f4f6fc" stroke-width="1" opacity="0.8"/>
<rect x="910" y="198" width="30.5" height="150" fill="url(#gPin)"/>
<rect x="911.5" y="362" width="18.5" height="18" fill="url(#gPin)"/>
<path d="M905 219.0 C 899 214.0 901 209.0 911 208.5" fill="none" stroke="#8f9cc4" stroke-width="1.3"/>
<path d="M903.5 217.5 C 906 226.0 944 227.5 948 221.5" fill="none" stroke="#141c36" stroke-width="3.4" stroke-linecap="round"/>
<path d="M904 218.8 C 907 227.2 943 228.6 947.5 222.8" fill="none" stroke="#dfe6f6" stroke-width="1.3" stroke-linecap="round"/>
<path d="M905 236.7 C 899 231.7 901 226.7 911 226.2" fill="none" stroke="#8f9cc4" stroke-width="1.3"/>
<path d="M903.5 235.2 C 906 243.7 944 245.2 948 239.2" fill="none" stroke="#141c36" stroke-width="3.4" stroke-linecap="round"/>
<path d="M904 236.5 C 907 244.9 943 246.3 947.5 240.5" fill="none" stroke="#dfe6f6" stroke-width="1.3" stroke-linecap="round"/>
<path d="M905 254.2 C 899 249.2 901 244.2 911 243.7" fill="none" stroke="#8f9cc4" stroke-width="1.3"/>
<path d="M903.5 252.7 C 906 261.2 944 262.7 948 256.7" fill="none" stroke="#141c36" stroke-width="3.4" stroke-linecap="round"/>
<path d="M904 254.0 C 907 262.4 943 263.8 947.5 258.0" fill="none" stroke="#dfe6f6" stroke-width="1.3" stroke-linecap="round"/>
<path d="M905 271.8 C 899 266.8 901 261.8 911 261.3" fill="none" stroke="#8f9cc4" stroke-width="1.3"/>
<path d="M903.5 270.3 C 906 278.8 944 280.3 948 274.3" fill="none" stroke="#141c36" stroke-width="3.4" stroke-linecap="round"/>
<path d="M904 271.6 C 907 280.0 943 281.4 947.5 275.6" fill="none" stroke="#dfe6f6" stroke-width="1.3" stroke-linecap="round"/>
<path d="M905 288.7 C 899 283.7 901 278.7 911 278.2" fill="none" stroke="#8f9cc4" stroke-width="1.3"/>
<path d="M903.5 287.2 C 906 295.7 944 297.2 948 291.2" fill="none" stroke="#141c36" stroke-width="3.4" stroke-linecap="round"/>
<path d="M904 288.5 C 907 296.9 943 298.3 947.5 292.5" fill="none" stroke="#dfe6f6" stroke-width="1.3" stroke-linecap="round"/>
<path d="M905 305.6 C 899 300.6 901 295.6 911 295.1" fill="none" stroke="#8f9cc4" stroke-width="1.3"/>
<path d="M903.5 304.1 C 906 312.6 944 314.1 948 308.1" fill="none" stroke="#141c36" stroke-width="3.4" stroke-linecap="round"/>
<path d="M904 305.4 C 907 313.8 943 315.2 947.5 309.4" fill="none" stroke="#dfe6f6" stroke-width="1.3" stroke-linecap="round"/>
<polygon points="900.7,193.0 940.0,212.0 952.0,218.5 952.0,200.0 900.7,176.0" fill="#1f54b2"/>
<polyline points="899.0,192.8 940.0,212.8 953.0,219.8" fill="none" stroke="#0e2a78" stroke-width="2" opacity="0.85"/>
<polygon points="871.5,337.6 941.2,378.7 999.8,370.6 999.8,353.8" fill="#2250b8"/>
<polygon points="871.5,337.6 941.2,378.7 941.6,381.2 871.5,340.0" fill="#16388e"/>
<polygon points="941.2,378.7 999.8,370.6 999.8,372.8 941.6,381.2" fill="#3f6ad4"/>
<ellipse cx="926" cy="356" rx="24" ry="9" fill="#6a92f0" opacity="0.55" filter="url(#b3)"/>
<ellipse cx="953" cy="361.5" rx="12.5" ry="4.2" fill="#17399a"/><path d="M941 362.5 A12.5 4.2 0 0 0 965.5 362" fill="none" stroke="#5f86e2" stroke-width="1"/>
<rect x="910" y="336" width="30.5" height="12" fill="url(#gPin)"/>
<circle cx="902" cy="316" r="1.6" fill="#ffffff"/>
</g>
<g clip-path="url(#c1)">
<rect x="686" y="482" width="471" height="264" fill="#1d53a6"/>
<rect x="686" y="482" width="140" height="264" fill="url(#gC1L)"/>
<line x1="727.4" y1="482" x2="727.4" y2="746" stroke="#3f63bd" stroke-width="1.2"/>
<rect x="824.5" y="482" width="5.5" height="264" fill="#0c2270"/>
<rect x="821.5" y="482" width="3" height="264" fill="#2a5cc2"/>
<ellipse cx="734.8" cy="653.2" rx="6.6" ry="10.4" fill="#e9ecf2" stroke="#3d61b8" stroke-width="1"/>
<path d="M730 650 C 731 643 739 643 740.5 652 C 737 653.5 733 653 730 650 Z" fill="#3a3a40"/>
<path d="M729.5 655 C 731 664 739 664 740.6 655" fill="none" stroke="#b9bdc8" stroke-width="1.6"/>
<rect x="857" y="587.5" width="8" height="64.5" fill="#081650"/>
<path d="M862 592 C 884 596 884 645 862 649 Z" fill="#2353b4"/>
<path d="M863 591.5 C 885.5 595 885.5 646 863 650" fill="none" stroke="#d6dcea" stroke-width="4.4"/>
<path d="M878 612 L879.5 620 L878.5 634" fill="none" stroke="#5a6478" stroke-width="2.6"/>
<path d="M867 610.5 C 858.5 614 858.5 630 867 633.5" fill="none" stroke="#eef1f8" stroke-width="3.8"/>
<rect x="885.7" y="493.5" width="78.3" height="237.5" rx="39.1" fill="url(#gPl1)" stroke="#c9d2e4" stroke-width="1.6"/>
<rect x="903.7" y="525" width="45" height="171" rx="21" fill="url(#gCup)" stroke="#c4c4c4" stroke-width="1"/>
<path d="M926 529 C 945 530 947.5 540 947.5 552 L947.5 670 C947.5 684 942 692 926 694" fill="none" stroke="#8e8e8e" stroke-width="2"/>
<path d="M914 688 C 926 694 940 690 944 672" fill="none" stroke="#f4f4f4" stroke-width="3" opacity="0.9"/>
<circle cx="924.4" cy="505.2" r="6.3" fill="#9c9c9c" stroke="#f3f3f3" stroke-width="1.5"/><circle cx="925.6" cy="505.2" r="3.4" fill="#c4c4c4" stroke="#5a5a5a" stroke-width="0.9"/>
<circle cx="924.4" cy="715.8" r="6.3" fill="#9c9c9c" stroke="#f3f3f3" stroke-width="1.5"/><circle cx="925.6" cy="715.8" r="3.4" fill="#c4c4c4" stroke="#5a5a5a" stroke-width="0.9"/>
</g>
<g clip-path="url(#c2)">
<rect x="686" y="849" width="471" height="266" fill="#1f55ab"/>
<rect x="771.5" y="910" width="288" height="143" rx="11" fill="#123a86" opacity="0.55" filter="url(#b1)"/>
<rect x="769.2" y="907.3" width="289" height="143.2" rx="10.6" fill="#123a86" opacity="0.8"/>
<rect x="770.6" y="908.7" width="286.2" height="140.4" rx="9.4" fill="#d6d6d6" stroke="#f8f8f8" stroke-width="1.4"/>
<rect x="806" y="909.4" width="215.3" height="103.7" fill="#dadada"/>
<rect x="799" y="908.6" width="7" height="113" fill="url(#gBarV)"/>
<rect x="1021.3" y="908.6" width="7" height="113" fill="url(#gBarV)"/>
<path d="M799 1013 L1028.3 1013 L1028.3 1018 Q1028.3 1021.7 1024 1021.7 L803 1021.7 Q799 1021.7 799 1018 Z" fill="url(#gBarH)"/>
<polygon points="830.0,924.7 997.2,924.7 1005.2,932.7 1005.2,992.9 997.2,1000.9 830.0,1000.9 822.0,992.9 822.0,932.7" fill="#1f55ab" stroke="#f8f8f8" stroke-width="1.6"/>
<path d="M822.8 992 L822.8 933 L830.3 925.6 L997 925.6" fill="none" stroke="#143c88" stroke-width="1.6"/>
<circle cx="788.1" cy="978.9" r="12.6" fill="url(#gBall)"/>
<ellipse cx="787.1" cy="973" rx="3" ry="4.4" fill="#ffffff"/>
<ellipse cx="794.1" cy="972.5" rx="1.6" ry="3" fill="#ffffff" opacity="0.8"/>
<circle cx="1039.9" cy="978.9" r="12.6" fill="url(#gBall)"/>
<ellipse cx="1038.9" cy="973" rx="3" ry="4.4" fill="#ffffff"/>
<ellipse cx="1045.9" cy="972.5" rx="1.6" ry="3" fill="#ffffff" opacity="0.8"/>
</g>
<g clip-path="url(#c3)">
<rect x="686" y="1217" width="471" height="264" fill="url(#gC3G)"/>
<polygon points="915.1,1390.2 958.3,1386.3 958.3,1481.5 915.1,1481.5" fill="url(#gC3M)"/>
<polygon points="1075.7,1370.4 1132.8,1364.5 1132.8,1481.5 1075.7,1481.5" fill="#2c64c4"/>
<polygon points="1075.7,1370.4 1106.3,1368.0 1106.3,1481.5 1075.7,1481.5" fill="#2058b8"/>
<polygon points="683.8,1215.7 809.9,1215.7 809.9,1395.0 683.8,1356.1" fill="url(#gC3S)"/>
<polygon points="809.9,1215.7 842.5,1215.7 842.5,1481.5 809.9,1481.5" fill="url(#gC3P)"/>
<polygon points="840.5,1215.7 860.7,1215.7 860.7,1481.5 840.5,1481.5" fill="#2a5cc0"/>
<polygon points="840.5,1215.7 1132.8,1215.7 1132.8,1370.4 840.5,1404.1" fill="#2560bc"/>
<polygon points="862.3,1211.7 1110.2,1211.7 1110.2,1326.8 862.3,1358.5" fill="#235cb4" stroke="#12348e" stroke-width="1.6"/>
<line x1="840.5" y1="1366.4" x2="1132.8" y2="1333.9" stroke="#3f74dc" stroke-width="1.6"/>
<line x1="891.7" y1="1292.7" x2="917.4" y2="1289.1" stroke="#0a1236" stroke-width="5.4" stroke-linecap="round"/>
<line x1="946.0" y1="1285.5" x2="971.8" y2="1281.9" stroke="#0a1236" stroke-width="5.4" stroke-linecap="round"/>
<line x1="1000.7" y1="1278.0" x2="1025.7" y2="1274.4" stroke="#0a1236" stroke-width="5.4" stroke-linecap="round"/>
<line x1="1055.1" y1="1270.8" x2="1080.1" y2="1267.3" stroke="#0a1236" stroke-width="5.4" stroke-linecap="round"/>
<line x1="891.7" y1="1321.2" x2="917.4" y2="1317.6" stroke="#0a1236" stroke-width="5.4" stroke-linecap="round"/>
<line x1="946.0" y1="1313.7" x2="971.8" y2="1310.1" stroke="#0a1236" stroke-width="5.4" stroke-linecap="round"/>
<line x1="1000.7" y1="1306.5" x2="1025.7" y2="1303.0" stroke="#0a1236" stroke-width="5.4" stroke-linecap="round"/>
<line x1="1055.1" y1="1299.4" x2="1080.1" y2="1295.8" stroke="#0a1236" stroke-width="5.4" stroke-linecap="round"/>
<path d="M892 1210 L892 1242 A19.8 19.8 0 0 0 931.7 1242 L931.7 1210 Z" fill="#cdcdcd" stroke="#efefef" stroke-width="1.4"/>
<path d="M922 1215 L922 1232 Q921 1240 908 1244" fill="none" stroke="#222" stroke-width="4"/>
<circle cx="911" cy="1253" r="2.4" fill="#8a8a8a"/>
<circle cx="784.5" cy="1357" r="2.6" fill="#f0f4ff"/><circle cx="813" cy="1369" r="3.6" fill="#e8eefc" stroke="#2f58b8" stroke-width="0.8"/>
</g>
<path d="M299.7 150 L299.7 343.4 L348 343.4" fill="none" stroke="#f2f6ff" stroke-width="3" stroke-dasharray="7.8 3.9"/>
<line x1="356.7" y1="343.4" x2="684.5" y2="343.4" stroke="#141414" stroke-width="1.9" stroke-dasharray="6.8 4.9"/>
<circle cx="300.6" cy="141.5" r="9.5" fill="#ffffff" stroke="#173f46" stroke-width="4"/>
<path d="M186.5 462 L186.5 611 L348 611" fill="none" stroke="#f2f6ff" stroke-width="3" stroke-dasharray="7.8 3.9"/>
<line x1="356.7" y1="611.0" x2="680.0" y2="611.0" stroke="#141414" stroke-width="1.9" stroke-dasharray="6.8 4.9"/>
<circle cx="187.0" cy="453.2" r="9.5" fill="#ffffff" stroke="#173f46" stroke-width="4"/>
<path d="M284.5 868 L284.5 981 L348 981" fill="none" stroke="#f2f6ff" stroke-width="3" stroke-dasharray="7.8 3.9"/>
<line x1="356.7" y1="981.0" x2="684.0" y2="981.0" stroke="#141414" stroke-width="1.9" stroke-dasharray="6.8 4.9"/>
<circle cx="284.5" cy="858.0" r="9.5" fill="#ffffff" stroke="#173f46" stroke-width="4"/>
<path d="M172 1269 L348 1269" fill="none" stroke="#f2f6ff" stroke-width="3" stroke-dasharray="7.8 3.9"/>
<line x1="360.0" y1="1269.0" x2="684.0" y2="1269.0" stroke="#141414" stroke-width="1.9" stroke-dasharray="6.8 4.9"/>
<circle cx="162.6" cy="1269.5" r="9.5" fill="#ffffff" stroke="#173f46" stroke-width="4"/>
<g font-family="'Liberation Sans', sans-serif" font-weight="700">
<g stroke="#12485a" stroke-width="1.8" stroke-linejoin="round" fill="#12485a" font-size="109">
<text y="79.8" x="512.0 595.2 644.6 716.5 789.0 862.3 926.4">Product</text>
<text y="79.8" x="1006.8 1095.3 1163.0 1205.9 1276.9 1314.8 1349.8">Details</text>
</g>
<g stroke="#0a0a0a" stroke-width="1.1" stroke-linejoin="round" font-size="46.5" fill="#0a0a0a">
<text x="429" y="336.4" textLength="154.5" lengthAdjust="spacingAndGlyphs">Door Axle</text>
<text x="429" y="602.4" textLength="194" lengthAdjust="spacingAndGlyphs">Door Handle</text>
<text x="434" y="971.2" textLength="163" lengthAdjust="spacingAndGlyphs">Card slots</text>
<text x="439" y="1261" textLength="146" lengthAdjust="spacingAndGlyphs">Air vents</text>
</g>
</g>
</svg>
</body></html>
